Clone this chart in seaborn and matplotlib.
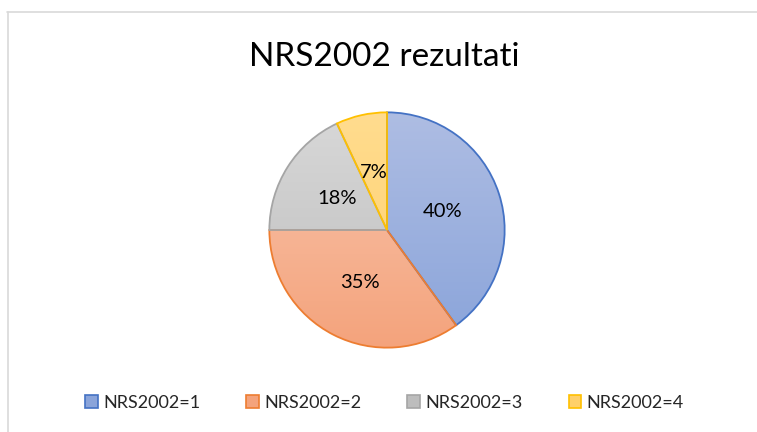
import numpy as np
import matplotlib
matplotlib.use("Agg")
import matplotlib.pyplot as plt
from matplotlib.colors import LinearSegmentedColormap
from matplotlib.patches import Patch
from matplotlib.lines import Line2D
import seaborn as sns

# Data
categories = ["NRS2002=1", "NRS2002=2", "NRS2002=3", "NRS2002=4"]
shares = [40, 35, 18, 7]

# Excel-like gradient fills (top colour, bottom colour) and outline colours
top_colors = ["#aebde3", "#f9c6ae", "#d8d8d8", "#ffdc8f"]
bottom_colors = ["#8aa4da", "#f4a37c", "#bdbdbd", "#ffd06a"]
edge_colors = ["#4472c4", "#ed7d31", "#a5a5a5", "#ffc000"]

sns.set_theme(style="white")
plt.rcParams["font.family"] = ["Lato", "DejaVu Sans"]

fig = plt.figure(figsize=(7.57, 4.32), dpi=100)

# chart border (top and left only visible)
fig.add_artist(Line2D([7 / 757, 1], [1 - 12 / 432] * 2, color="#d9d9d9", lw=1.2))
fig.add_artist(Line2D([8 / 757] * 2, [0, 1 - 12 / 432], color="#d9d9d9", lw=1.2))

ax = fig.add_axes([267 / 757, 82 / 432, 240 / 757, 240 / 432])
wedges, texts, autotexts = ax.pie(
    shares, startangle=90, counterclock=False, radius=1,
    autopct="%1.0f%%", pctdistance=0.5,
    wedgeprops=dict(linewidth=1.3),
    textprops=dict(fontsize=14.5, color="black"),
)
ax.set_aspect("equal")
ax.axis("off")

grad = np.linspace(0, 1, 256).reshape(-1, 1)
for w, tc, bc, ec in zip(wedges, top_colors, bottom_colors, edge_colors):
    cmap = LinearSegmentedColormap.from_list("g", [tc, bc])
    im = ax.imshow(grad, cmap=cmap, extent=[-1, 1, -1, 1], origin="upper",
                   aspect="auto", zorder=0.5)
    im.set_clip_path(w)
    w.set_facecolor("none")
    w.set_edgecolor(ec)
    w.set_zorder(1)
for t in autotexts:
    t.set_zorder(3)
ax.set_xlim(-1.02, 1.02)
ax.set_ylim(-1.02, 1.02)

fig.text(0.508, 1 - 57 / 432, "NRS2002 rezultati", ha="center", va="center",
         fontsize=24, color="black")

handles = [Patch(facecolor=bc, edgecolor=ec, linewidth=1.2)
           for bc, ec in zip(bottom_colors, edge_colors)]
fig.legend(handles, categories, loc="center", bbox_to_anchor=(0.508, 1 - 403 / 432),
           ncol=4, frameon=False, fontsize=13, handlelength=0.7, handleheight=0.7,
           handletextpad=0.3, columnspacing=2.55)

fig.savefig("out.png", dpi=100)
